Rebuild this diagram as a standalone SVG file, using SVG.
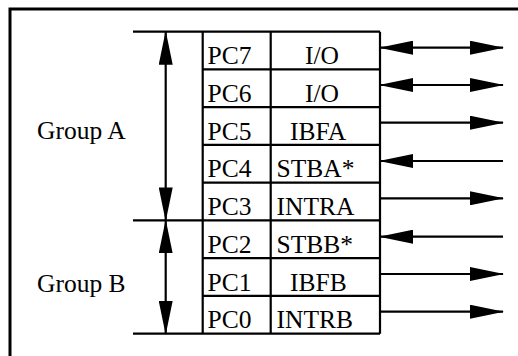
<svg xmlns="http://www.w3.org/2000/svg" width="518" height="356" viewBox="0 0 518 356">
  <style>
    .t { font-family: "Liberation Serif", "Times New Roman", serif; font-size: 25.5px; fill: #000; }
    .ln { stroke: #000; stroke-width: 2.2; fill: none; }
    .fr { stroke: #000; stroke-width: 3; fill: none; }
    .ar { stroke: #000; stroke-width: 2.2; fill: none; marker-end: url(#ah); }
    .dbl { marker-start: url(#ah); }
  </style>
  <defs>
    <marker id="ah" markerUnits="userSpaceOnUse" markerWidth="34" markerHeight="14" viewBox="0 0 34 14" refX="33" refY="7" orient="auto-start-reverse">
      <path d="M0,0 L34,7 L0,14 z" fill="#000"/>
    </marker>
  </defs>
  <rect width="518" height="356" fill="#fff"/>
  <g id="frame">
    <path class="fr" d="M10,356 V9 H518"/>
  </g>
  <g id="table">
    <path class="ln" d="M133,31.7 H380 M133,220.4 H380 M133,333.7 H380"/>
    <path class="ln" d="M202.7,69.4 H380 M202.7,107.2 H380 M202.7,144.9 H380 M202.7,182.7 H380 M202.7,258.2 H380 M202.7,295.9 H380"/>
    <path class="ln" d="M202.7,31.7 V333.7 M270.7,31.7 V333.7 M380,31.7 V333.7"/>
  </g>
  <g id="groupA">
    <text class="t" x="37" y="138.5">Group A</text>
  </g>
  <g id="groupB">
    <text class="t" x="37" y="292">Group B</text>
  </g>
  <g id="pc7"><text class="t" x="207.5" y="64.2">PC7</text><text class="t" x="305" y="64.2">I/O</text></g>
  <g id="pc6"><text class="t" x="207.5" y="101.9">PC6</text><text class="t" x="305" y="101.9">I/O</text></g>
  <g id="pc5"><text class="t" x="207.5" y="139.7">PC5</text><text class="t" x="290" y="139.7">IBFA</text></g>
  <g id="pc4"><text class="t" x="207.5" y="177.4">PC4</text><text class="t" x="276.5" y="177.4">STBA*</text></g>
  <g id="pc3"><text class="t" x="207.5" y="215.2">PC3</text><text class="t" x="276.5" y="215.2">INTRA</text></g>
  <g id="pc2"><text class="t" x="207.5" y="252.9">PC2</text><text class="t" x="276.5" y="252.9">STBB*</text></g>
  <g id="pc1"><text class="t" x="207.5" y="290.7">PC1</text><text class="t" x="290" y="290.7">IBFB</text></g>
  <g id="pc0"><text class="t" x="207.5" y="328.4">PC0</text><text class="t" x="276.5" y="328.4">INTRB</text></g>
  <g id="connectors">
    <line class="ar dbl" x1="165.7" y1="220.4" x2="165.7" y2="31.7"/>
    <line class="ar dbl" x1="165.7" y1="220.4" x2="165.7" y2="333.7"/>
    <line class="ar dbl" x1="380" y1="47.7" x2="503" y2="47.7"/>
    <line class="ar dbl" x1="380" y1="85" x2="503" y2="85"/>
    <line class="ar" x1="380" y1="122.7" x2="503" y2="122.7"/>
    <line class="ar" x1="503" y1="161" x2="380" y2="161"/>
    <line class="ar" x1="380" y1="198.3" x2="503" y2="198.3"/>
    <line class="ar" x1="503" y1="236.7" x2="380" y2="236.7"/>
    <line class="ar" x1="380" y1="274" x2="503" y2="274"/>
    <line class="ar" x1="380" y1="311.7" x2="503" y2="311.7"/>
  </g>
</svg>
